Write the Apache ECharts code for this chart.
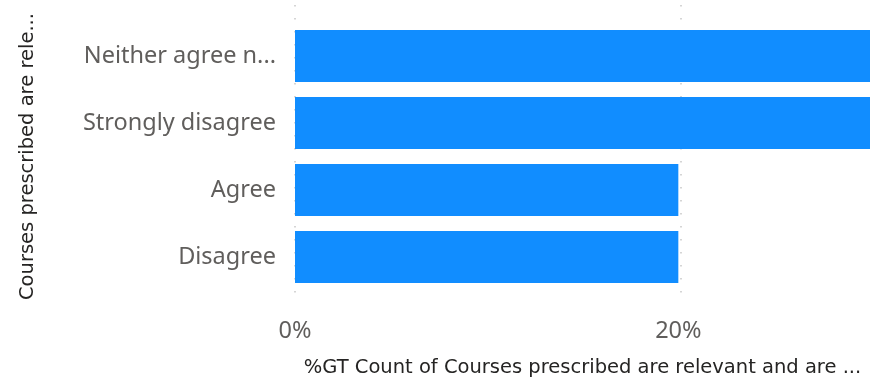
<!DOCTYPE html>
<html>
<head>
<meta charset="utf-8">
<script src="https://cdn.jsdelivr.net/npm/echarts@6/dist/echarts.min.js"></script>
<style>
  html, body { margin: 0; padding: 0; background: #fff; }
  #chart { width: 873px; height: 383px; }
</style>
</head>
<body>
<div id="chart"></div>
<script>
// categories top to bottom, share of total in %
const categories = ['Neither agree n...', 'Strongly disagree', 'Agree', 'Disagree'];
const shares = [30, 30, 20, 20];
const xTicks = [0, 20];

const chart = echarts.init(document.getElementById('chart'));

const gridLine = {
  show: true,
  showMaxLine: false,
  lineStyle: { color: '#c8c8c8', width: 1.5, type: [1.5, 11.5] }
};

chart.setOption({
  animation: false,
  grid: [
    { left: 295, right: 0, top: 22.5, bottom: 92.5 },
    // taller copy used only for the dotted gridlines
    { left: 295, right: 0, top: 5, bottom: 86 }
  ],
  xAxis: [{
    type: 'value',
    min: 0,
    max: 30,
    interval: 20,
    name: '%GT Count of Courses prescribed are relevant and are ...',
    nameLocation: 'middle',
    nameGap: 67,
    nameTextStyle: { fontFamily: 'DejaVu Sans', fontSize: 19.5, color: '#252423' },
    axisLine: { show: false },
    axisTick: { show: false },
    axisLabel: {
      margin: 29,
      fontFamily: 'Noto Sans',
      fontSize: 23.5,
      color: '#605e5c',
      formatter: v => xTicks.includes(v) ? v + '%' : ''
    },
    splitLine: { show: false }
  }, {
    gridIndex: 1,
    type: 'value',
    min: 0,
    max: 30,
    interval: 20,
    axisLine: { show: false },
    axisTick: { show: false },
    axisLabel: { show: false },
    splitLine: gridLine
  }],
  yAxis: [{
    type: 'category',
    inverse: true,
    data: categories,
    name: 'Courses prescribed are rele...',
    nameLocation: 'middle',
    nameRotate: 90,
    nameGap: 257,
    nameTextStyle: { fontFamily: 'DejaVu Sans', fontSize: 19.5, color: '#252423' },
    axisLine: { show: false },
    axisTick: { show: false },
    axisLabel: {
      margin: 19,
      fontFamily: 'Noto Sans',
      fontSize: 23.5,
      color: '#605e5c'
    }
  }, {
    gridIndex: 1,
    type: 'value',
    show: false
  }],
  series: [{
    type: 'bar',
    data: shares,
    barCategoryGap: '22.4%',
    itemStyle: { color: '#118dff' }
  }]
});
</script>
</body>
</html>
